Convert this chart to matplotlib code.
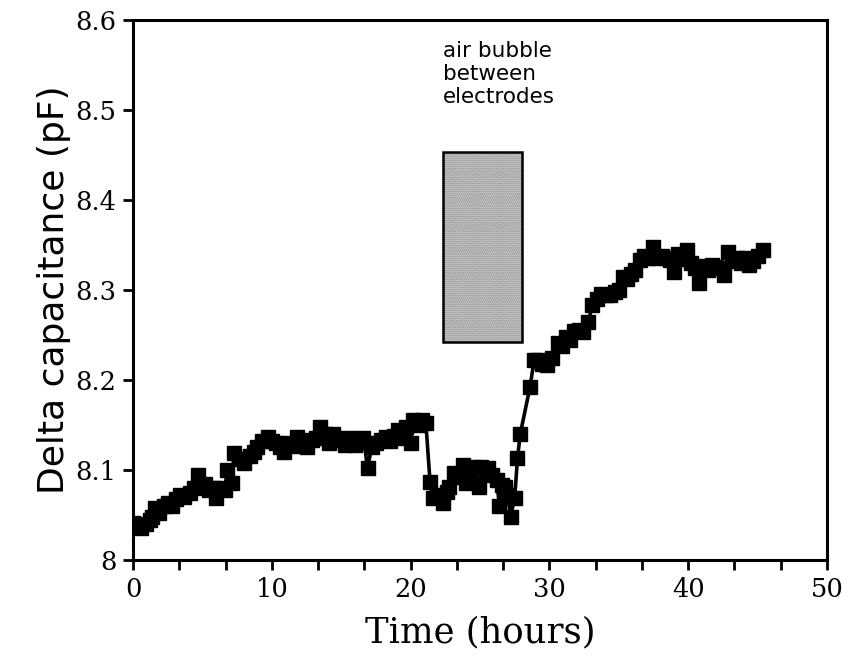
import matplotlib
matplotlib.use("Agg")
import matplotlib.pyplot as plt
import matplotlib.patches as mpatches
from matplotlib.ticker import MultipleLocator

# ── data ──────────────────────────────────────
hours = [
    0.0, 0.3, 0.6, 0.9, 1.2, 1.4, 1.6, 1.9, 2.2, 2.5, 2.8, 3.1, 3.4, 3.7, 4.1,
    4.4, 4.7, 4.9, 5.2, 5.5, 5.8, 6.0, 6.3, 6.6, 6.8, 7.1, 7.3, 7.6, 8.0, 8.4,
    8.7, 8.9, 9.3, 9.7, 10.0, 10.3, 10.6, 10.9, 11.2, 11.5, 11.8, 12.2, 12.5,
    12.9, 13.2, 13.5, 13.8, 14.1, 14.4, 14.7, 15.0, 15.3, 15.6, 16.0, 16.3,
    16.6, 16.9, 17.2, 17.5, 17.9, 18.2, 18.5, 18.8, 19.1, 19.4, 19.7, 20.0,
    20.2, 20.5, 20.8, 21.1, 21.4, 21.6, 21.9, 22.3, 22.6, 22.8, 23.1, 23.4,
    23.8, 24.0, 24.3, 24.6, 24.9, 25.1, 25.4, 25.6, 25.9, 26.2, 26.4, 26.6,
    26.8, 27.0, 27.2, 27.5, 27.7, 27.9, 28.6, 28.9, 29.2, 29.5, 29.8, 30.2,
    30.6, 30.9, 31.2, 31.5, 31.8, 32.1, 32.4, 32.8, 33.1, 33.4, 33.7, 34.1,
    34.4, 34.7, 35.0, 35.3, 35.6, 35.9, 36.2, 36.5, 36.8, 37.1, 37.5, 37.8,
    38.1, 38.4, 38.7, 39.0, 39.3, 39.6, 39.9, 40.2, 40.5, 40.8, 41.1, 41.4,
    41.7, 42.0, 42.3, 42.6, 42.9, 43.2, 43.5, 43.8, 44.1, 44.4, 44.7, 45.0,
    45.4,
]
capacitance = [
    8.041, 8.038, 8.036, 8.040, 8.044, 8.048, 8.058, 8.052, 8.060, 8.063,
    8.060, 8.068, 8.072, 8.070, 8.074, 8.080, 8.094, 8.081, 8.084, 8.078,
    8.080, 8.069, 8.080, 8.078, 8.100, 8.085, 8.119, 8.112, 8.108, 8.115,
    8.120, 8.126, 8.132, 8.137, 8.132, 8.130, 8.126, 8.120, 8.130, 8.127,
    8.137, 8.132, 8.126, 8.133, 8.135, 8.148, 8.140, 8.130, 8.140, 8.136,
    8.133, 8.128, 8.136, 8.128, 8.131, 8.136, 8.102, 8.126, 8.130, 8.133,
    8.137, 8.132, 8.138, 8.144, 8.136, 8.148, 8.130, 8.156, 8.150, 8.156,
    8.152, 8.087, 8.069, 8.072, 8.063, 8.075, 8.081, 8.097, 8.092, 8.106,
    8.086, 8.098, 8.103, 8.081, 8.103, 8.098, 8.102, 8.094, 8.089, 8.060,
    8.083, 8.081, 8.072, 8.048, 8.069, 8.113, 8.140, 8.192, 8.222, 8.222,
    8.218, 8.217, 8.225, 8.241, 8.238, 8.248, 8.245, 8.255, 8.256, 8.253,
    8.265, 8.283, 8.290, 8.296, 8.294, 8.294, 8.298, 8.300, 8.315, 8.312,
    8.318, 8.322, 8.333, 8.338, 8.336, 8.348, 8.336, 8.338, 8.336, 8.333,
    8.320, 8.340, 8.335, 8.345, 8.330, 8.325, 8.308, 8.327, 8.322, 8.328,
    8.326, 8.325, 8.317, 8.342, 8.332, 8.336, 8.330, 8.336, 8.328, 8.332,
    8.338, 8.344,
]

bubble_hours = (22.3, 28.0)
bubble_cap = (8.242, 8.453)
bubble_label = "air bubble\nbetween\nelectrodes"

x_ticks = [0, 10, 20, 30, 40, 50]
y_ticks = [8.0, 8.1, 8.2, 8.3, 8.4, 8.5, 8.6]
y_ticklabels = ["8", "8.1", "8.2", "8.3", "8.4", "8.5", "8.6"]

# ── figure ────────────────────────────────────
fig = plt.figure(figsize=(8.56, 6.70), dpi=100)
ax = fig.add_axes([0.1554, 0.1642, 0.8107, 0.8059])

ax.plot(hours, capacitance, color="black", linewidth=2.6,
        marker="s", markersize=10.5, markerfacecolor="black",
        markeredgecolor="black", zorder=3)

# stippled grey box: dotted fill, then black outline
w = bubble_hours[1] - bubble_hours[0]
h = bubble_cap[1] - bubble_cap[0]
ax.add_patch(mpatches.Rectangle((bubble_hours[0], bubble_cap[0]), w, h,
                                facecolor="#e2e2e2", edgecolor="#7a7a7a",
                                hatch="........", linewidth=0, zorder=2))
ax.add_patch(mpatches.Rectangle((bubble_hours[0], bubble_cap[0]), w, h,
                                facecolor="none", edgecolor="black",
                                linewidth=1.8, zorder=2))
ax.text(bubble_hours[0], 8.577, bubble_label, ha="left", va="top",
        fontsize=15.5, family="DejaVu Sans", linespacing=1.2)

ax.set_xlim(0, 50)
ax.set_ylim(8.0, 8.6)
ax.set_xticks(x_ticks)
ax.xaxis.set_minor_locator(MultipleLocator(10 / 3))
ax.set_yticks(y_ticks)
ax.set_yticklabels(y_ticklabels)

for lbl in ax.get_xticklabels() + ax.get_yticklabels():
    lbl.set_family("DejaVu Serif")
    lbl.set_fontsize(18.5)

ax.tick_params(axis="both", which="both", direction="out", width=2,
               length=7, pad=5)

for sp in ax.spines.values():
    sp.set_linewidth(2.2)

ax.set_xlabel("Time (hours)", family="DejaVu Serif", fontsize=25.5, labelpad=10)
ax.set_ylabel("Delta capacitance (pF)", family="DejaVu Sans", fontsize=26,
              labelpad=3)

fig.savefig("out.png", dpi=100)
